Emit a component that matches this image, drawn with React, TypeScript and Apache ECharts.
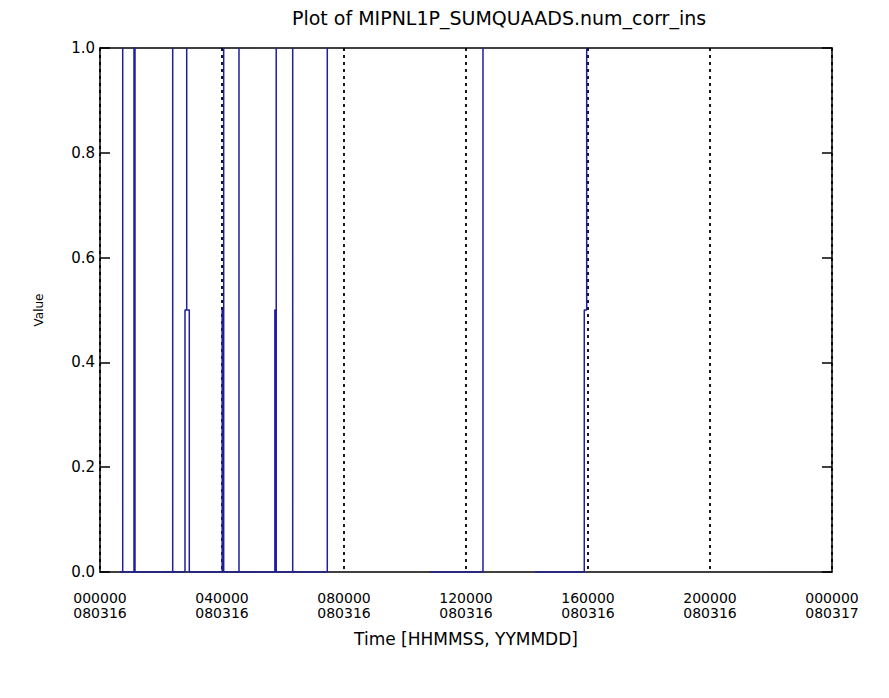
import React, { useEffect, useRef } from "react";
import * as echarts from "echarts";

const titleText = "Plot of MIPNL1P_SUMQUAADS.num_corr_ins";
const xAxisName = "Time [HHMMSS, YYMMDD]";
const yAxisName = "Value";

// tick labels (every 4 hours, 14400 s)
const timeLabels = ["000000", "040000", "080000", "120000", "160000", "200000", "000000"];
const dateLabels = ["080316", "080316", "080316", "080316", "080316", "080316", "080317"];
const yTickLabels = ["0.0", "0.2", "0.4", "0.6", "0.8", "1.0"];

// samples: seconds since 000000 080316 and values (null = data gap)
const sampleTimes = [
  2361,
  2680, 2680, 2680,
  4013, 4013, 4130, 4130,
  8581, 8581, 8581,
  10033, 10033, 10233, 10233, 10233, 10540, 10540,
  14420, 14420, 14600, 14600, 14600,
  16406, 16406, 16406,
  20640, 20640, 20800, 20800, 20800,
  22745, 22745, 22745,
  26828, 26828,
  32000,
  38950,
  45205, 45205,
  48000,
  51343,
  57161, 57161, 57445, 57445,
];
const sampleValues = [
  0,
  0, 1, 0,
  0, 1, 1, 0,
  0, 1, 0,
  0, 0.5, 0.5, 1, 0.5, 0.5, 0,
  0, 0.5, 0.5, 1, 0,
  0, 1, 0,
  0, 0.5, 0.5, 1, 0,
  0, 1, 0,
  0, 1,
  null,
  0,
  0, 1,
  null,
  0,
  0, 0.5, 0.5, 1,
];

const FONT = "DejaVu Sans";

export default function App() {
  const ref = useRef<HTMLDivElement>(null);
  useEffect(() => {
    if (!ref.current) return;
    const chart = echarts.init(ref.current, null, { renderer: "svg" });
    const data = sampleTimes.map((t, i) => [t, sampleValues[i] === null ? "-" : sampleValues[i]]);
    chart.setOption({
      animation: false,
      backgroundColor: "#ffffff",
      title: {
        text: titleText,
        left: 287,
        top: 3,
        textStyle: { fontFamily: FONT, fontSize: 19, fontWeight: "normal", color: "#000" },
      },
      grid: { left: 100, right: 57, top: 48, bottom: 126, containLabel: false },
      xAxis: [
        {
          type: "value",
          min: 0,
          max: 86400,
          interval: 14400,
          position: "bottom",
          z: 1,
          name: xAxisName,
          nameLocation: "middle",
          nameGap: 58,
          nameTextStyle: { fontFamily: FONT, fontSize: 17, color: "#000" },
          axisLine: { show: true, onZero: false, lineStyle: { color: "#000", width: 1.5 } },
          axisTick: { show: false },
          axisLabel: {
            margin: 18,
            fontFamily: FONT,
            fontSize: 14,
            color: "#000",
            lineHeight: 15,
            formatter: (v: number) => {
              const i = Math.round(v / 14400);
              return `${timeLabels[i]}\n${dateLabels[i]}`;
            },
          },
          splitLine: {
            show: true,
            lineStyle: { color: "#000", width: 1.8, type: [3, 4] },
          },
        },
        {
          type: "value",
          min: 0,
          max: 86400,
          interval: 14400,
          position: "top",
          z: 1,
          axisLine: { show: true, onZero: false, lineStyle: { color: "#000", width: 1.5 } },
          axisTick: { show: false },
          axisLabel: { show: false },
          splitLine: { show: false },
        },
      ],
      yAxis: [
        {
          type: "value",
          min: 0,
          max: 1,
          interval: 0.2,
          position: "left",
          z: 1,
          name: yAxisName,
          nameLocation: "middle",
          nameGap: 55,
          nameRotate: 90,
          nameTextStyle: { fontFamily: FONT, fontSize: 12, color: "#000" },
          axisLine: { show: true, onZero: false, lineStyle: { color: "#000", width: 1.5 } },
          axisTick: { show: true, inside: true, length: 10, lineStyle: { color: "#000", width: 1.5 } },
          axisLabel: {
            margin: 5,
            fontFamily: FONT,
            fontSize: 15,
            color: "#000",
            formatter: (v: number) => yTickLabels[Math.round(v / 0.2)],
          },
          splitLine: { show: false },
        },
        {
          type: "value",
          min: 0,
          max: 1,
          interval: 0.2,
          position: "right",
          z: 1,
          axisLine: { show: true, onZero: false, lineStyle: { color: "#000", width: 1.5 } },
          axisTick: { show: true, inside: true, length: 10, lineStyle: { color: "#000", width: 1.5 } },
          axisLabel: { show: false },
          splitLine: { show: false },
        },
      ],
      series: [
        {
          type: "line",
          xAxisIndex: 0,
          yAxisIndex: 0,
          data,
          showSymbol: false,
          connectNulls: false,
          lineStyle: { color: "#1e1e9e", width: 1.5 },
          itemStyle: { color: "#1e1e9e" },
          z: 5,
        },
      ],
    });
    return () => chart.dispose();
  }, []);
  return (
    <div
      ref={ref}
      style={{ position: "absolute", left: 0, top: 0, width: 889, height: 698, background: "#fff" }}
    />
  );
}
